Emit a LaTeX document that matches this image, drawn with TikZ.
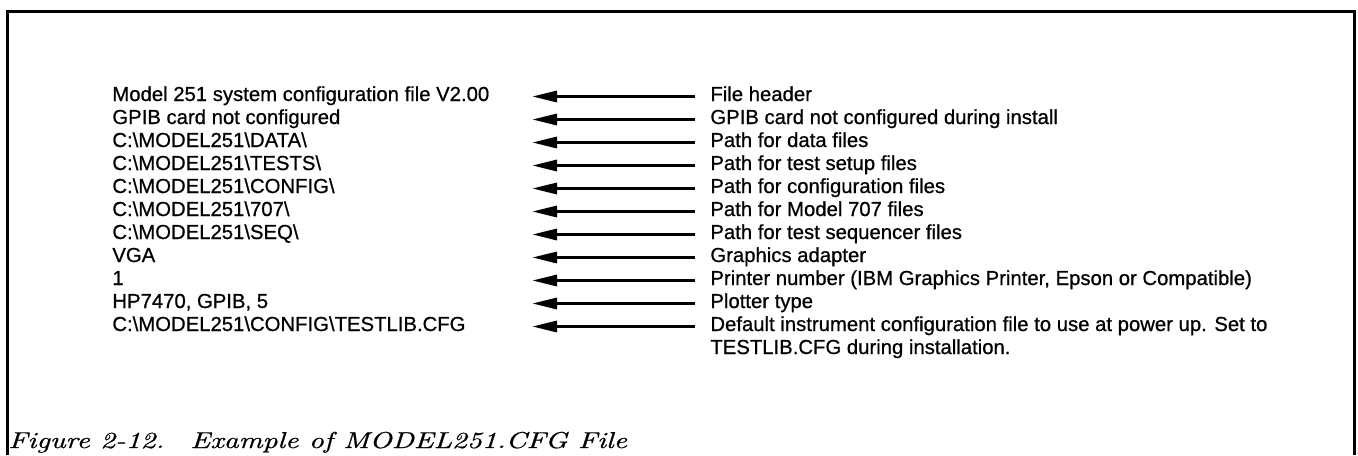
\documentclass[tikz,border=0pt]{standalone}
\usepackage{graphicx}
\usepackage{fontspec}
\newfontfamily\bodyfont{Liberation Sans}[FakeBold=0.7]
\newfontfamily\capfont{lmroman10-italic.otf}[FakeBold=0.6]
\usetikzlibrary{arrows.meta}
\newcommand{\bsl}{\textbackslash}
\begin{document}
\begin{tikzpicture}[x=0.5pt,y=-0.5pt,
  txt/.style={anchor=base west, inner sep=0pt, font=\bodyfont\fontsize{10.15}{11.5}\selectfont},
  captext/.style={anchor=base west, inner sep=0pt, font=\capfont\fontsize{11.5}{13}\selectfont},
  arr/.style={line width=1.6pt, -{Triangle[length=12.5pt,width=5.5pt]}},
  framed/.style={line width=1.5pt}]
\useasboundingbox (0,0) rectangle (1358,455);
\draw[framed] (7,455) -- (7,11) -- (1354,11) -- (1354,455);
% left column
\node[txt] (l0) at (112,101) {Model 251 system configuration file V2.00};
\node[txt] (l1) at (112,124) {GPIB card not configured};
\node[txt] (l2) at (112,147) {C:\bsl MODEL251\bsl DATA\bsl};
\node[txt] (l3) at (112,170) {C:\bsl MODEL251\bsl TESTS\bsl};
\node[txt] (l4) at (112,193) {C:\bsl MODEL251\bsl CONFIG\bsl};
\node[txt] (l5) at (112,216) {C:\bsl MODEL251\bsl 707\bsl};
\node[txt] (l6) at (112,239) {C:\bsl MODEL251\bsl SEQ\bsl};
\node[txt] (l7) at (112,262) {VGA};
\node[txt] (l8) at (112,285) {1};
\node[txt] (l9) at (112,308) {HP7470, GPIB, 5};
\node[txt] (l10) at (112,331) {C:\bsl MODEL251\bsl CONFIG\bsl TESTLIB.CFG};
% right column
\node[txt] (r0) at (710,101) {File header};
\node[txt] (r1) at (710,124) {GPIB card not configured during install};
\node[txt] (r2) at (710,147) {Path for data files};
\node[txt] (r3) at (710,170) {Path for test setup files};
\node[txt] (r4) at (710,193) {Path for configuration files};
\node[txt] (r5) at (710,216) {Path for Model 707 files};
\node[txt] (r6) at (710,239) {Path for test sequencer files};
\node[txt] (r7) at (710,262) {Graphics adapter};
\node[txt] (r8) at (710,285) {Printer number (IBM Graphics Printer, Epson or Compatible)};
\node[txt] (r9) at (710,308) {Plotter type};
\node[txt] (r10) at (710,331) {Default instrument configuration file to use at power up. Set to};
\node[txt] (r10b) at (710,354) {TESTLIB.CFG during installation.};
% arrow tips
\foreach \i in {0,...,10}{
  \coordinate (a\i) at (532,{96.5+23*\i});
  \draw[arr] ([xshift=-7.5pt,yshift=2.25pt]r\i.base west) -- (a\i);
}
% caption
\node[captext] (c1) at (8,448) {\scalebox{1.27}[1]{Figure 2-12.}};
\node[captext] (c2) at (190,448) {\scalebox{1.27}[1]{Example of MODEL251.CFG File}};
\end{tikzpicture}
\end{document}
